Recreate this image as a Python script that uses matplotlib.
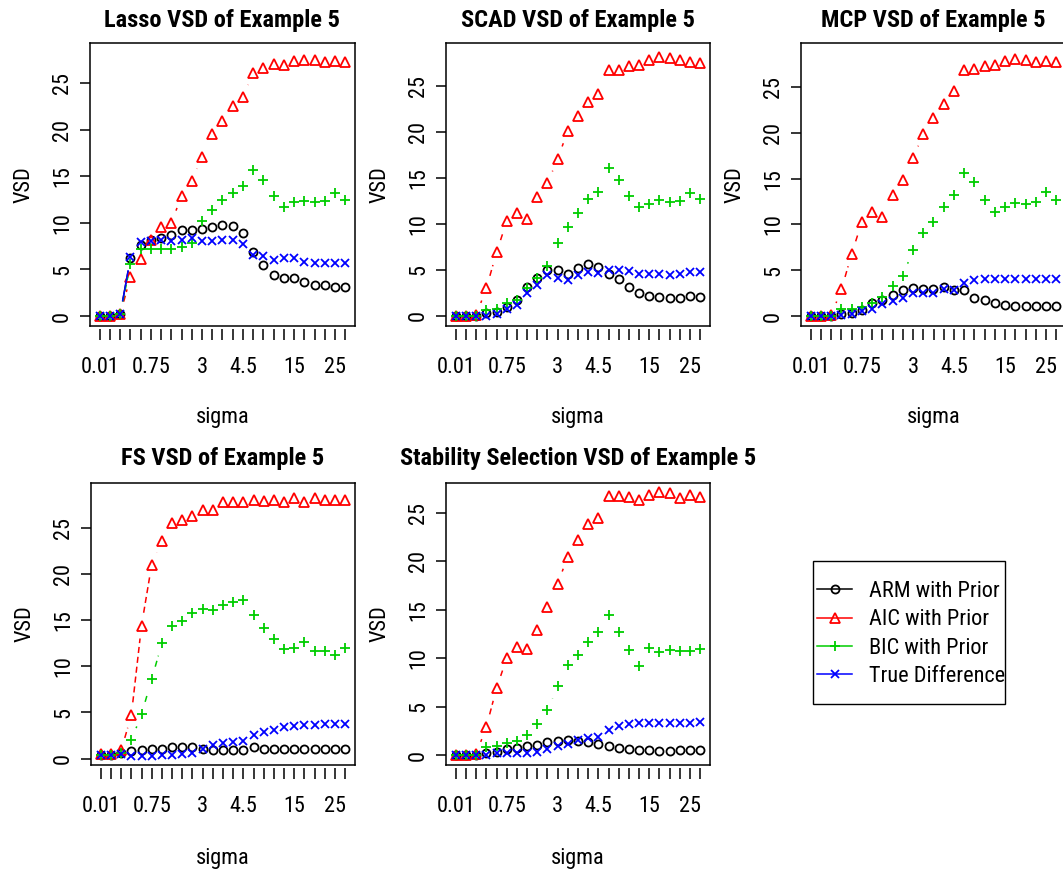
import matplotlib
matplotlib.use('Agg')
import matplotlib.pyplot as plt
import numpy as np
from matplotlib.lines import Line2D
from matplotlib.patches import Rectangle

plt.rcParams['font.family'] = ['Roboto Condensed', 'Liberation Sans', 'DejaVu Sans']

# ---------------- data ----------------
sigma_index = np.arange(1, 26)
sigma_labels = ['0.01', '', '', '', '', '0.75', '', '', '', '', '3', '', '', '', '4.5',
                '', '', '', '', '15', '', '', '', '25', '']

series_names = ['ARM with Prior', 'AIC with Prior', 'BIC with Prior', 'True Difference']

lasso_arm = [0, 0, 0.2, 6.2, 7.6, 8.2, 8.4, 8.7, 9.2, 9.2, 9.3, 9.5, 9.8, 9.7, 8.9, 6.9, 5.5, 4.4, 4.1, 4.1, 3.6, 3.3, 3.3, 3.1, 3.1]
lasso_aic = [0, 0, 0.2, 4.2, 6.1, 8.2, 9.6, 10.0, 12.9, 14.5, 17.1, 19.5, 20.9, 22.5, 23.5, 26.1, 26.6, 27.0, 26.9, 27.4, 27.5, 27.5, 27.3, 27.4, 27.3]
lasso_bic = [0, 0, 0.2, 5.6, 7.2, 7.2, 7.2, 7.2, 7.4, 7.8, 10.2, 11.4, 12.4, 13.2, 13.9, 15.7, 14.6, 12.9, 11.7, 12.2, 12.3, 12.2, 12.3, 13.2, 12.5]
lasso_true = [0, 0, 0.2, 6.3, 7.9, 8.0, 8.2, 8.0, 8.2, 8.4, 8.0, 8.0, 8.2, 8.2, 7.7, 6.6, 6.4, 6.0, 6.2, 6.2, 5.8, 5.7, 5.7, 5.7, 5.7]

scad_arm = [0, 0, 0, 0.3, 0.4, 1.0, 1.7, 3.2, 4.1, 5.0, 5.0, 4.6, 5.2, 5.7, 5.3, 4.6, 4.0, 3.1, 2.5, 2.2, 2.1, 1.9, 1.9, 2.2, 2.1]
scad_aic = [0, 0, 0.1, 3.0, 6.9, 10.3, 11.2, 10.5, 12.9, 14.4, 17.1, 20.1, 21.7, 23.3, 24.1, 26.7, 26.7, 27.2, 27.3, 27.8, 28.1, 28.0, 27.8, 27.6, 27.5]
scad_bic = [0, 0, 0, 0.7, 0.8, 1.4, 1.7, 3.0, 4.1, 5.4, 7.9, 9.7, 11.2, 12.7, 13.5, 16.1, 14.8, 13.0, 11.8, 12.2, 12.6, 12.4, 12.5, 13.4, 12.7]
scad_true = [0, 0, 0, 0, 0.2, 0.8, 1.2, 2.5, 3.4, 4.5, 4.1, 3.9, 4.5, 4.8, 4.7, 5.0, 5.0, 4.9, 4.6, 4.6, 4.6, 4.5, 4.6, 4.8, 4.8]

mcp_arm = [0, 0, 0, 0.2, 0.3, 0.7, 1.4, 1.8, 2.3, 2.8, 3.1, 3.0, 3.0, 3.2, 2.8, 2.8, 2.0, 1.7, 1.4, 1.2, 1.1, 1.1, 1.1, 1.1, 1.1]
mcp_aic = [0, 0, 0.1, 2.9, 6.8, 10.3, 11.3, 10.8, 13.2, 14.8, 17.2, 19.9, 21.6, 23.1, 24.6, 26.9, 27.0, 27.3, 27.4, 27.8, 28.0, 27.9, 27.7, 27.8, 27.7]
mcp_bic = [0, 0, 0, 0.8, 0.8, 1.0, 1.4, 2.1, 3.3, 4.4, 7.2, 9.1, 10.3, 11.9, 13.2, 15.6, 14.6, 12.7, 11.4, 11.9, 12.3, 12.2, 12.4, 13.5, 12.7]
mcp_true = [0, 0, 0, 0.1, 0.2, 0.5, 0.8, 1.3, 1.6, 2.0, 2.5, 2.5, 2.5, 2.9, 2.8, 3.6, 3.9, 4.0, 4.0, 4.0, 4.0, 4.0, 4.0, 4.0, 4.0]

fs_arm = [0.4, 0.4, 0.6, 0.8, 0.9, 1.0, 1.1, 1.3, 1.3, 1.3, 1.1, 0.9, 0.9, 0.9, 0.9, 1.3, 1.0, 1.0, 1.0, 1.0, 1.0, 1.0, 1.0, 1.0, 1.1]
fs_aic = [0.5, 0.5, 0.9, 4.7, 14.4, 21.0, 23.6, 25.5, 25.8, 26.2, 26.9, 26.9, 27.8, 27.8, 27.8, 28.0, 27.9, 28.0, 27.8, 28.2, 27.8, 28.2, 28.0, 28.0, 28.0]
fs_bic = [0.4, 0.4, 0.6, 2.0, 4.8, 8.6, 12.5, 14.3, 14.9, 15.8, 16.2, 16.1, 16.6, 17.0, 17.2, 15.5, 14.1, 12.9, 11.9, 12.0, 12.6, 11.6, 11.7, 11.2, 12.0]
fs_true = [0.4, 0.4, 0.5, 0.3, 0.3, 0.3, 0.4, 0.4, 0.5, 0.6, 1.0, 1.5, 1.7, 1.8, 1.9, 2.6, 2.9, 3.1, 3.4, 3.5, 3.6, 3.6, 3.8, 3.8, 3.8]

stab_arm = [0, 0, 0, 0.2, 0.3, 0.6, 0.7, 0.9, 1.0, 1.3, 1.5, 1.6, 1.4, 1.3, 1.1, 0.9, 0.7, 0.6, 0.5, 0.5, 0.4, 0.4, 0.5, 0.5, 0.5]
stab_aic = [0, 0, 0.1, 2.9, 6.9, 10.0, 11.2, 11.0, 12.9, 15.3, 17.7, 20.5, 22.2, 23.9, 24.5, 26.8, 26.8, 26.7, 26.3, 26.9, 27.2, 27.1, 26.5, 26.9, 26.7]
stab_bic = [0, 0, 0, 0.8, 0.9, 1.2, 1.5, 2.1, 3.2, 4.6, 7.1, 9.3, 10.3, 11.7, 12.7, 14.5, 12.7, 10.9, 9.2, 11.1, 10.6, 10.8, 10.7, 10.7, 11.0]
stab_true = [0, 0, 0, 0, 0.2, 0.2, 0.2, 0.2, 0.3, 0.6, 0.9, 1.1, 1.6, 1.8, 1.9, 2.6, 3.0, 3.2, 3.3, 3.3, 3.3, 3.3, 3.3, 3.3, 3.4]

titles = ['Lasso VSD of Example 5', 'SCAD VSD of Example 5', 'MCP VSD of Example 5',
          'FS VSD of Example 5', 'Stability Selection VSD of Example 5']
panel_data = [
    (lasso_arm, lasso_aic, lasso_bic, lasso_true),
    (scad_arm, scad_aic, scad_bic, scad_true),
    (mcp_arm, mcp_aic, mcp_bic, mcp_true),
    (fs_arm, fs_aic, fs_bic, fs_true),
    (stab_arm, stab_aic, stab_bic, stab_true),
]

# ---------------- layout (pixels) ----------------
W, H = 1063, 873
fig = plt.figure(figsize=(W / 100, H / 100), dpi=100)

boxes = [  # left, top, right, bottom
    (90, 43, 355, 326),
    (446, 43, 710, 326),
    (801, 43, 1066, 326),
    (91, 483, 355, 765),
    (446, 483, 710, 765),
]
ylims = [(-1.07, 29.29), (-1.09, 29.67), (-1.09, 29.8), (-0.68, 29.82), (-1.03, 28.1)]
title_base = [26.5, 26.5, 26.5, 465, 465]
xlabel_base = [423, 423, 423, 864, 864]

colors = ['black', '#FF0000', '#00CD00', '#0000FF']
markers = ['o', '^', '+', 'x']
msizes = [5.8, 6.6, 7.6, 5.4]
lstyles = ['-', (0, (4, 2.5)), (0, (4, 3)), '-']
GAP = 13  # px gap around points (R type = "b")
TICKFS = 16
TITLEFS = 17.6
MEW = 1.3


def fx(px):
    return px / W


def fy(py):
    return 1 - py / H


def gapped_lines(ax, xs, ys, color, ls):
    pts = ax.transData.transform(np.column_stack([xs, ys]))
    inv = ax.transData.inverted()
    for p0, p1 in zip(pts[:-1], pts[1:]):
        d = p1 - p0
        L = np.hypot(d[0], d[1])
        if L <= 2 * GAP:
            continue
        a = p0 + d * GAP / L
        b = p1 - d * GAP / L
        seg = inv.transform(np.array([a, b]))
        ax.plot(seg[:, 0], seg[:, 1], color=color, ls=ls, lw=1.1, solid_capstyle='butt')


for i, (box, title, data) in enumerate(zip(boxes, titles, panel_data)):
    l, t, r, b = box
    ax = fig.add_axes([fx(l), fy(b), fx(r - l), (b - t) / H])
    ax.set_xlim(0.04, 25.96)
    ax.set_ylim(*ylims[i])
    for s in ax.spines.values():
        s.set_linewidth(1.1)
    for k in range(4):
        gapped_lines(ax, sigma_index, data[k], colors[k], lstyles[k])
        ax.plot(sigma_index, data[k], ls='none', marker=markers[k], ms=msizes[k],
                mfc='none', mec=colors[k], mew=MEW)
    # y axis
    ax.set_yticks([0, 5, 10, 15, 20, 25])
    ax.set_yticklabels(['0', '5', '10', '15', '20', '25'], rotation=90, va='center')
    ax.tick_params(axis='y', direction='out', length=7.2, width=1.1, pad=5, labelsize=TICKFS)
    # x axis (detached, R style)
    ax.tick_params(axis='x', bottom=False, labelbottom=False)
    sec = ax.secondary_xaxis(-3.0 / (b - t))
    sec.spines['bottom'].set_visible(False)
    sec.set_xticks(sigma_index)
    sec.set_xticklabels(sigma_labels)
    sec.tick_params(axis='x', direction='out', length=8, width=1.1, pad=12, labelsize=TICKFS)
    # labels
    cx = (l + r) / 2
    fig.text(fx(cx), fy(title_base[i]), title, ha='center', va='baseline',
             fontsize=TITLEFS, fontweight='bold')
    fig.text(fx(cx), fy(xlabel_base[i]), 'sigma', ha='center', va='baseline', fontsize=TICKFS)
    fig.text(fx(l - 60), fy((t + b) / 2), 'VSD', rotation=90, rotation_mode='anchor',
             ha='center', va='baseline', fontsize=TICKFS)

# ---------------- legend ----------------
handles = [Line2D([], [], color=colors[k], ls='-', lw=1.1, marker=markers[k], ms=msizes[k],
                  mfc='none', mec=colors[k], mew=MEW) for k in range(4)]
leg = fig.legend(handles, series_names, loc='upper left',
                 bbox_to_anchor=(fx(817), fy(581)), frameon=False, borderpad=0,
                 borderaxespad=0, handlelength=35 / 22.2, handletextpad=17 / 22.2,
                 labelspacing=0.33, fontsize=TICKFS)
fig.patches.append(Rectangle((fx(813), fy(704)), fx(1005 - 813), (704 - 561) / H,
                             transform=fig.transFigure, fill=False, edgecolor='black', lw=1.0))

fig.savefig('out.png', dpi=100)
